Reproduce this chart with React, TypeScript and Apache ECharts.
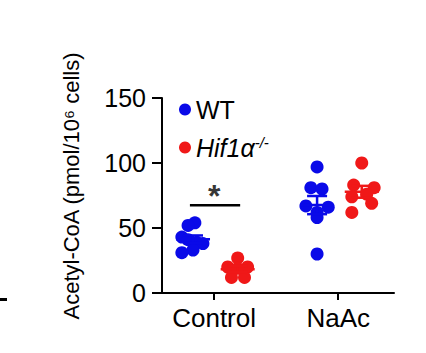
import React, { useEffect, useRef } from 'react';
import * as echarts from 'echarts';

// Group tick positions on the x value axis
const categories = ['Control', 'NaAc'];
const categoryTicks = [1, 2];
const yTicks = [0, 50, 100, 150];

// Acetyl-CoA values (pmol/10^6 cells)
const wtControl = [54, 52, 43, 41, 39, 38, 33, 31];
const wtNaAc = [97, 81, 80, 67, 66, 62, 58, 30];
const koControl = [27, 20, 20, 19, 12, 12];
const koNaAc = [100, 83, 81, 76, 74, 69, 62];

// horizontal scatter (jitter) of each dot, in x-axis units
const wtControlJitter = [0.015, -0.04, -0.09, -0.04, 0.03, 0.08, 0.0, -0.09];
const wtNaAcJitter = [0.0, -0.05, 0.04, -0.09, 0.09, 0.0, 0.0, 0.0];
const koControlJitter = [0.0, -0.08, 0.08, 0.0, -0.05, 0.055];
const koNaAcJitter = [0.0, -0.065, 0.1, 0.04, -0.08, 0.08, -0.08];

const wtOffset = -0.17;
const koOffset = 0.19;

const BLUE = '#0a0ae8';
const RED = '#f01818';

function points(values: number[], jitter: number[], center: number) {
  return values.map((v, i) => [center + jitter[i], v]);
}
function meanSem(values: number[]) {
  const n = values.length;
  const m = values.reduce((a, b) => a + b, 0) / n;
  const sd = Math.sqrt(values.reduce((a, b) => a + (b - m) * (b - m), 0) / (n - 1));
  return [m, sd / Math.sqrt(n)];
}

export default function App() {
  const ref = useRef<HTMLDivElement>(null);
  useEffect(() => {
    if (!ref.current) return;
    const chart = echarts.init(ref.current, null, { renderer: 'svg' });
    const font = 'Liberation Sans, Arial, sans-serif';

    const wtData = [
      ...points(wtControl, wtControlJitter, categoryTicks[0] + wtOffset),
      ...points(wtNaAc, wtNaAcJitter, categoryTicks[1] + wtOffset),
    ];
    const koData = [
      ...points(koControl, koControlJitter, categoryTicks[0] + koOffset),
      ...points(koNaAc, koNaAcJitter, categoryTicks[1] + koOffset),
    ];
    const summary = [
      [categoryTicks[0] + wtOffset, ...meanSem(wtControl), 0],
      [categoryTicks[1] + wtOffset, ...meanSem(wtNaAc), 0],
      [categoryTicks[0] + koOffset, ...meanSem(koControl), 1],
      [categoryTicks[1] + koOffset, ...meanSem(koNaAc), 1],
    ];

    const option: any = {
      animation: false,
      backgroundColor: '#ffffff',
      textStyle: { fontFamily: font },
      grid: { left: 162, right: 32, top: 98, bottom: 60, containLabel: false },
      legend: {
        orient: 'vertical',
        left: 174,
        top: 92,
        itemWidth: 12,
        itemHeight: 12,
        itemGap: 13,
        itemTextGap: 14,
        icon: 'circle',
        selectedMode: false,
        data: ['WT', 'Hif1α-/-'],
        textStyle: {
          fontFamily: font,
          fontSize: 25,
          color: '#000',
          rich: {
            i: { fontSize: 25, fontStyle: 'italic', fontFamily: font, color: '#000' },
            s: { fontSize: 15, fontStyle: 'italic', fontFamily: font, color: '#000', verticalAlign: 'top', lineHeight: 25 },
          },
        },
        formatter: (name: string) => (name === 'WT' ? 'WT' : '{i|Hif1α}{s|-/-}'),
      },
      xAxis: {
        type: 'value',
        min: 0.58,
        max: 2.45,
        splitLine: { show: false },
        axisLine: { show: true, lineStyle: { color: '#000', width: 2 } },
        axisTick: { show: true, length: 7, lineStyle: { color: '#000', width: 2 }, customValues: categoryTicks },
        axisLabel: {
          customValues: categoryTicks,
          formatter: (v: number) => categories[categoryTicks.indexOf(Math.round(v))] ?? '',
          fontSize: 26,
          color: '#000',
          margin: 12,
          fontFamily: font,
        },
      },
      yAxis: {
        type: 'value',
        min: 0,
        max: 150,
        interval: 50,
        splitLine: { show: false },
        axisLine: { show: true, lineStyle: { color: '#000', width: 2 } },
        axisTick: { show: true, length: 10, lineStyle: { color: '#000', width: 2 } },
        axisLabel: {
          fontSize: 25,
          color: '#000',
          margin: 16,
          fontFamily: font,
          customValues: yTicks,
        },
      },
      series: [
        {
          name: 'WT',
          type: 'scatter',
          symbol: 'circle',
          symbolSize: 13,
          itemStyle: { color: BLUE, opacity: 1 },
          data: wtData,
          z: 2,
        },
        {
          name: 'Hif1α-/-',
          type: 'scatter',
          symbol: 'circle',
          symbolSize: 13,
          itemStyle: { color: RED, opacity: 1 },
          data: koData,
          z: 2,
        },
        {
          type: 'custom',
          z: 3,
          data: summary,
          renderItem: (params: any, api: any) => {
            const x = api.value(0);
            const m = api.value(1);
            const s = api.value(2);
            const color = api.value(3) === 0 ? BLUE : RED;
            const pm = api.coord([x, m]);
            const pt = api.coord([x, m + s]);
            const pb = api.coord([x, m - s]);
            const st = { stroke: color, lineWidth: 2.5 };
            return {
              type: 'group',
              children: [
                { type: 'line', shape: { x1: pm[0] - 17, y1: pm[1], x2: pm[0] + 17, y2: pm[1] }, style: st },
                { type: 'line', shape: { x1: pt[0], y1: pt[1], x2: pb[0], y2: pb[1] }, style: st },
                { type: 'line', shape: { x1: pt[0] - 10, y1: pt[1], x2: pt[0] + 10, y2: pt[1] }, style: st },
                { type: 'line', shape: { x1: pb[0] - 10, y1: pb[1], x2: pb[0] + 10, y2: pb[1] }, style: st },
              ],
            };
          },
        },
        {
          type: 'line',
          symbol: 'none',
          silent: true,
          lineStyle: { color: '#000', width: 2.5 },
          data: [[0.805, 67.5], [1.21, 67.5]],
          z: 4,
        },
        {
          type: 'scatter',
          symbolSize: 0,
          silent: true,
          data: [[1.0, 67.5]],
          label: {
            show: true,
            formatter: '*',
            position: 'top',
            distance: -7,
            fontSize: 32,
            fontWeight: 'bold',
            color: '#000',
            fontFamily: font,
          },
          z: 4,
        },
      ],
      graphic: [
        {
          type: 'text',
          x: 71,
          y: 186,
          rotation: Math.PI / 2,
          style: {
            text: 'Acetyl-CoA (pmol/10⁶ cells)',
            fontSize: 22,
            fontFamily: font,
            fill: '#000',
            align: 'center',
            verticalAlign: 'middle',
          },
        },
        { type: 'rect', shape: { x: 0, y: 298, width: 7, height: 3 }, style: { fill: '#000' } },
      ],
    };
    chart.setOption(option);
    return () => chart.dispose();
  }, []);
  return <div ref={ref} style={{ position: 'absolute', left: 0, top: 0, width: 426, height: 353 }} />;
}
